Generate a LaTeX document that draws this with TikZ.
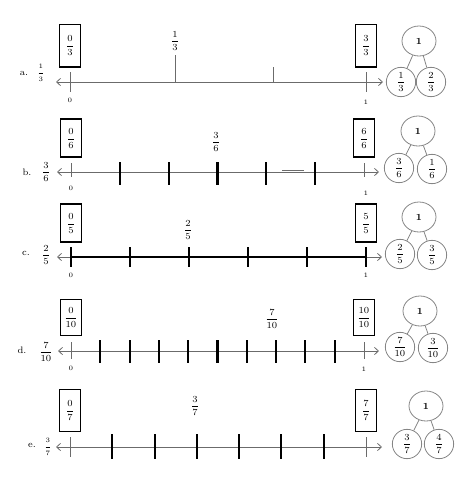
\documentclass[tikz,border=0pt]{standalone}
\usepackage{amsmath}
\usepackage{xcolor}
\usepackage{tikz}
\usetikzlibrary{shapes.geometric,arrows.meta,positioning,calc}
\definecolor{linegray}{HTML}{6B6B6B}
\definecolor{ringgray}{HTML}{858585}

\begin{document}
\begin{tikzpicture}[x=0.75pt,y=-0.75pt,
  numl/.style={{Straight Barb[length=3pt,width=5.5pt]}-{Straight Barb[length=3pt,width=5.5pt]},
               linegray,line width=0.6pt},
  tck/.style={linegray,line width=0.7pt},
  btck/.style={black,line width=1.6pt},
  fbx/.style={draw,line width=1.2pt,minimum width=15.5pt,minimum height=28.5pt,
              inner sep=1pt,font=\scriptsize},
  whl/.style={ellipse,draw=ringgray,line width=0.6pt,minimum width=25.5pt,
              minimum height=22.5pt,inner sep=0pt,font=\scriptsize\bfseries},
  prt/.style={circle,draw=ringgray,line width=0.6pt,minimum size=22pt,
              inner sep=0pt,font=\scriptsize},
  lnk/.style={ringgray,line width=0.6pt},
  lbl/.style={font=\scriptsize,inner sep=0pt},
  num/.style={font=\tiny,inner sep=0pt}
]
\useasboundingbox (0,0) rectangle (474,490);

% a.
\coordinate (a0) at (70,82);
\coordinate (a1) at (366,82);
\coordinate (aL) at (56,82);
\coordinate (aR) at (383,82);
\draw[numl] (aL) -- (aR);
\draw[tck] ($(a0)+(0,-10)$) -- ($(a0)+(0,10)$);
\draw[tck] ($(a1)+(0,-10)$) -- ($(a1)+(0,10)$);
\draw[tck] (175,82) -- (175,55);
\draw[tck] (273,82) -- (273,67);
\node[lbl] at (24,73) {a.};
\node[num] at (41,73) {$\dfrac{1}{3}$};
\node[lbl] at (175,41) {$\dfrac{1}{3}$};
\node[fbx,minimum height=32pt,above=10.5pt of a0] (abox0) {$\dfrac{0}{3}$};
\node[fbx,minimum height=32pt,above=10.5pt of a1] (abox1) {$\dfrac{3}{3}$};
\node[num] at (70,100) {0};
\node[num] at (366,102) {1};
\node[whl] (aw) at (419,41) {1};
\node[prt] (ap1) at (401,82) {$\dfrac{1}{3}$};
\node[prt] (ap2) at (431,82) {$\dfrac{2}{3}$};
\draw[lnk] (aw) -- (ap1);
\draw[lnk] (aw) -- (ap2);

% b.
\coordinate (b0) at (71,172);
\coordinate (b1) at (364,172);
\coordinate (bL) at (57,172);
\coordinate (bR) at (379,172);
\draw[numl] (bL) -- (bR);
\draw[linegray,line width=0.9pt] (282,170.5) -- (304,170.5);
\draw[tck] ($(b0)+(0,-9)$) -- ($(b0)+(0,5)$);
\draw[tck] ($(b1)+(0,-9)$) -- ($(b1)+(0,5)$);
\foreach \k in {1,...,5}
  \draw[btck] ($(b0)!\k/6!(b1)+(0,-10)$) -- ++(0,23);
\node[lbl] at (27,172) {b.};
\node[lbl] at (46,172) {$\dfrac{3}{6}$};
\node[lbl] at (216,142) {$\dfrac{3}{6}$};
\node[fbx,above=10.5pt of b0] (bbox0) {$\dfrac{0}{6}$};
\node[fbx,above=10.5pt of b1] (bbox1) {$\dfrac{6}{6}$};
\node[num] at (71,188) {0};
\node[num] at (366,193) {1};
\node[whl] (bw) at (418,131) {1};
\node[prt] (bp1) at (399,168) {$\dfrac{3}{6}$};
\node[prt] (bp2) at (432,169) {$\dfrac{1}{6}$};
\draw[lnk] (bw) -- (bp1);
\draw[lnk] (bw) -- (bp2);

% c.
\coordinate (c0) at (71,257);
\coordinate (c1) at (366,257);
\coordinate (cL) at (57,257);
\coordinate (cR) at (382,257);
\draw[numl] (cL) -- (cR);
\draw[black,line width=1.5pt] (c0) -- (c1);
\foreach \k in {0,...,5}
  \draw[btck] ($(c0)!\k/5!(c1)+(0,-10)$) -- ++(0,20);
\node[lbl] at (26,253) {c.};
\node[lbl] at (46,255) {$\dfrac{2}{5}$};
\node[lbl] at (188,230) {$\dfrac{2}{5}$};
\node[fbx,above=10.5pt of c0] (cbox0) {$\dfrac{0}{5}$};
\node[fbx,above=10.5pt of c1] (cbox1) {$\dfrac{5}{5}$};
\node[num] at (71,275) {0};
\node[num] at (366,275) {1};
\node[whl] (cw) at (419,217) {1};
\node[prt] (cp1) at (400,254) {$\dfrac{2}{5}$};
\node[prt] (cp2) at (432,255) {$\dfrac{3}{5}$};
\draw[lnk] (cw) -- (cp1);
\draw[lnk] (cw) -- (cp2);

% d.
\coordinate (d0) at (71,351);
\coordinate (d1) at (364,351);
\coordinate (dL) at (58,351);
\coordinate (dR) at (379,351);
\draw[numl] (dL) -- (dR);
\draw[tck] ($(d0)+(0,-9)$) -- ($(d0)+(0,8)$);
\draw[tck] ($(d1)+(0,-9)$) -- ($(d1)+(0,8)$);
\foreach \k in {1,...,9}
  \draw[btck] ($(d0)!\k/10!(d1)+(0,-11)$) -- ++(0,23);
\node[lbl] at (22,350) {d.};
\node[lbl] at (46,352) {$\dfrac{7}{10}$};
\node[lbl] at (272,319) {$\dfrac{7}{10}$};
\node[fbx,minimum height=27pt,above=11pt of d0] (dbox0) {$\dfrac{0}{10}$};
\node[fbx,minimum height=27pt,above=11pt of d1] (dbox1) {$\dfrac{10}{10}$};
\node[num] at (71,368) {0};
\node[num] at (364,369) {1};
\node[whl] (dw) at (420,311) {1};
\node[prt] (dp1) at (400,347) {$\dfrac{7}{10}$};
\node[prt] (dp2) at (433,348) {$\dfrac{3}{10}$};
\draw[lnk] (dw) -- (dp1);
\draw[lnk] (dw) -- (dp2);

% e.
\coordinate (e0) at (70,447);
\coordinate (e1) at (366,447);
\coordinate (eL) at (56,447);
\coordinate (eR) at (382,447);
\draw[numl] (eL) -- (eR);
\draw[tck] ($(e0)+(0,-10)$) -- ($(e0)+(0,10)$);
\draw[tck] ($(e1)+(0,-10)$) -- ($(e1)+(0,10)$);
\foreach \k in {1,...,6}
  \draw[btck] ($(e0)!\k/7!(e1)+(0,-13)$) -- ++(0,25);
\node[lbl] at (32,445) {e.};
\node[num] at (48,447) {$\dfrac{3}{7}$};
\node[lbl] at (195,406) {$\dfrac{3}{7}$};
\node[fbx,minimum height=31.5pt,above=11pt of e0] (ebox0) {$\dfrac{0}{7}$};
\node[fbx,minimum height=31.5pt,above=11pt of e1] (ebox1) {$\dfrac{7}{7}$};
\node[whl] (ew) at (426,406) {1};
\node[prt] (ep1) at (407,444) {$\dfrac{3}{7}$};
\node[prt] (ep2) at (439,444) {$\dfrac{4}{7}$};
\draw[lnk] (ew) -- (ep1);
\draw[lnk] (ew) -- (ep2);
\end{tikzpicture}
\end{document}
